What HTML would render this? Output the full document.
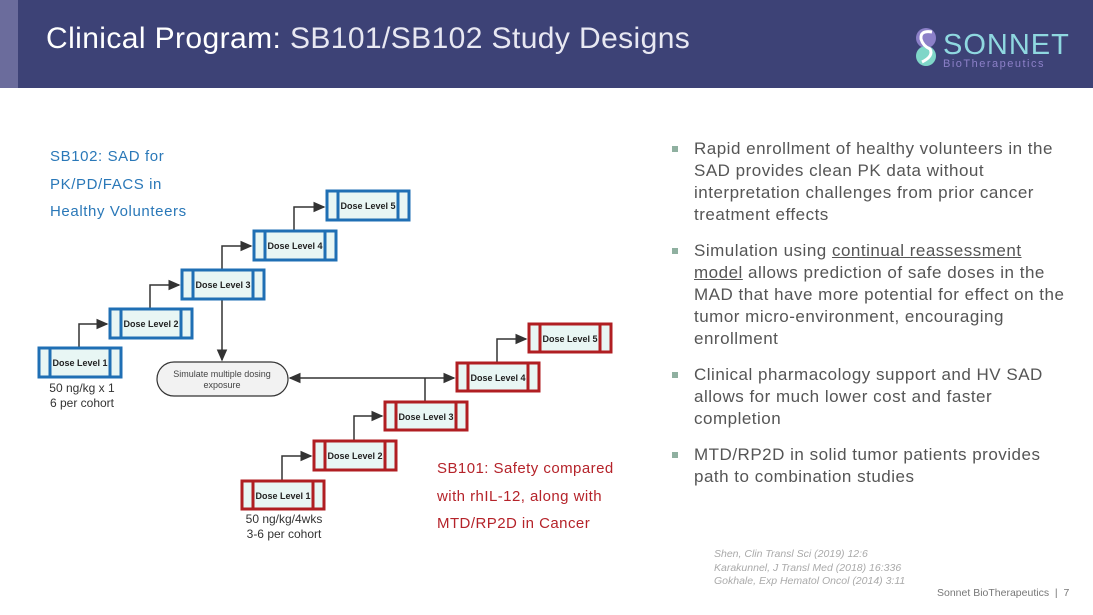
<!DOCTYPE html>
<html><head><meta charset="utf-8"><style>
body{margin:0;width:1093px;height:615px;overflow:hidden;background:#fff;font-family:"Liberation Sans",sans-serif;position:relative}
.hdr{position:absolute;left:0;top:0;width:1093px;height:88px;background:#3d4276}
.strip{position:absolute;left:0;top:0;width:18px;height:88px;background:#6b6c9c}
.title{position:absolute;left:46px;top:22px;font-size:30px;color:#fff;letter-spacing:0.4px}
.abs{position:absolute}
.bl{font-size:15px;color:#2a78b8;line-height:27.5px;letter-spacing:0.6px}
.rd{font-size:15px;color:#b5232a;line-height:27.5px;letter-spacing:0.45px}
ul{position:absolute;left:672px;top:138px;width:400px;margin:0;padding:0;list-style:none}
li{position:relative;padding-left:22px;font-size:17px;line-height:22px;color:#555;margin-bottom:14px;letter-spacing:0.5px}
li:before{content:"";position:absolute;left:0;top:8px;width:6px;height:6px;background:#8fb0a0}
.refs{left:714px;top:548px;font-size:10.5px;font-style:italic;color:#aaa;line-height:13.5px}
.foot{left:937px;top:587px;font-size:10.5px;color:#777}
</style></head><body>
<div class="hdr"></div><div class="strip"></div>
<div class="title">Clinical Program: <span style="font-weight:300;color:#e8e8f2">SB101/SB102 Study Designs</span></div>
<svg class="abs" style="left:910px;top:26px" width="170" height="45">
<circle cx="16" cy="12" r="10" fill="#8c80c8"/><circle cx="16" cy="30" r="10" fill="#7fd6c8"/>
<path d="M22 6 Q10 4 11 13 Q13 20 20 23 Q24 30 12 36" stroke="#fff" stroke-width="3" fill="none"/>
<text x="33" y="28" font-family="Liberation Sans" font-size="29" fill="#8fd8e0" letter-spacing="1">SONNET</text>
<text x="33" y="41" font-family="Liberation Sans" font-size="11" fill="#8c80c8" letter-spacing="1.5">BioTherapeutics</text>
</svg>
<div class="abs bl" style="left:50px;top:143px">SB102: SAD for<br>PK/PD/FACS in<br>Healthy Volunteers</div>
<div class="abs rd" style="left:437px;top:455px">SB101: Safety compared<br>with rhIL-12, along with<br>MTD/RP2D in Cancer</div>
<svg class="abs" style="left:0;top:0" width="650" height="560" font-family="Liberation Sans">
<defs><marker id="a" markerWidth="8" markerHeight="8" refX="7" refY="4" orient="auto"><path d="M0,0.5 L8,4 L0,7.5z" fill="#333"/></marker></defs>
<g stroke="#333" stroke-width="1.5" fill="none">
<path d="M79 347 V324 H107" marker-end="url(#a)"/>
<path d="M150 308 V285 H179" marker-end="url(#a)"/>
<path d="M222 269 V246 H251" marker-end="url(#a)"/>
<path d="M294 230 V207 H324" marker-end="url(#a)"/>
<path d="M222 298 V360" marker-end="url(#a)"/>
<path d="M282 480 V456 H311" marker-end="url(#a)"/>
<path d="M354 440 V416 H382" marker-end="url(#a)"/>
<path d="M497 362 V339 H526" marker-end="url(#a)"/>
<path d="M425 401 V378"/>
<path d="M300 378 H454" marker-end="url(#a)"/>
<path d="M300 378 H290" marker-end="url(#a)"/>
</g>
<rect x="157" y="362" width="131" height="34" rx="17" fill="#f2f2f2" stroke="#333" stroke-width="1.2"/>
<text x="222" y="377" font-size="9" text-anchor="middle" fill="#444">Simulate multiple dosing</text>
<text x="222" y="388" font-size="9" text-anchor="middle" fill="#444">exposure</text>
<g font-size="9" font-weight="bold" fill="#222" stroke-width="3">
<g stroke="#1f6fb4" fill="#e8f6f4">
<rect x="39" y="348" width="82" height="29"/><rect x="110" y="309" width="82" height="29"/><rect x="182" y="270" width="82" height="29"/><rect x="254" y="231" width="82" height="29"/><rect x="327" y="191" width="82" height="29"/>
<path d="M50 348V377M110 348V377M121 309V338M181 309V338M193 270V299M253 270V299M265 231V260M325 231V260M338 191V220M398 191V220" fill="none"/>
</g>
<g stroke="#b01e22" fill="#e8f6f4">
<rect x="242" y="481" width="82" height="28"/><rect x="314" y="441" width="82" height="29"/><rect x="385" y="402" width="82" height="28"/><rect x="457" y="363" width="82" height="28"/><rect x="529" y="324" width="82" height="28"/>
<path d="M253 481V509M313 481V509M325 441V470M385 441V470M396 402V430M456 402V430M468 363V391M528 363V391M540 324V352M600 324V352" fill="none"/>
</g>
<text x="80" y="366" text-anchor="middle">Dose Level 1</text>
<text x="151" y="327" text-anchor="middle">Dose Level 2</text>
<text x="223" y="288" text-anchor="middle">Dose Level 3</text>
<text x="295" y="249" text-anchor="middle">Dose Level 4</text>
<text x="368" y="209" text-anchor="middle">Dose Level 5</text>
<text x="283" y="499" text-anchor="middle">Dose Level 1</text>
<text x="355" y="459" text-anchor="middle">Dose Level 2</text>
<text x="426" y="420" text-anchor="middle">Dose Level 3</text>
<text x="498" y="381" text-anchor="middle">Dose Level 4</text>
<text x="570" y="342" text-anchor="middle">Dose Level 5</text>
</g>
<g font-size="12" fill="#333" text-anchor="middle">
<text x="82" y="392">50 ng/kg x 1</text><text x="82" y="407">6 per cohort</text>
<text x="284" y="523">50 ng/kg/4wks</text><text x="284" y="538">3-6 per cohort</text>
</g>
</svg>
<ul>
<li>Rapid enrollment of healthy volunteers in the SAD provides clean PK data without interpretation challenges from prior cancer treatment effects</li>
<li>Simulation using <u>continual reassessment model</u> allows prediction of safe doses in the MAD that have more potential for effect on the tumor micro-environment, encouraging enrollment</li>
<li>Clinical pharmacology support and HV SAD allows for much lower cost and faster completion</li>
<li>MTD/RP2D in solid tumor patients provides path to combination studies</li>
</ul>
<div class="abs refs">Shen, Clin Transl Sci (2019) 12:6<br>Karakunnel, J Transl Med (2018) 16:336<br>Gokhale, Exp Hematol Oncol (2014) 3:11</div>
<div class="abs foot">Sonnet BioTherapeutics &nbsp;| &nbsp;7</div>
</body></html>
